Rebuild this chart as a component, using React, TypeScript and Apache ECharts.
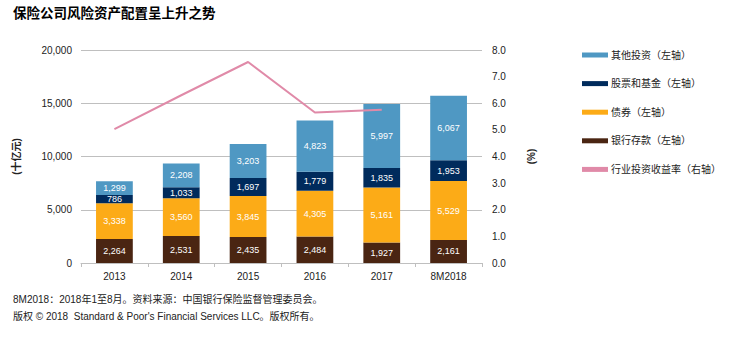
import React, { useEffect, useRef } from "react";
import * as echarts from "echarts";

const categories = ["2013", "2014", "2015", "2016", "2017", "8M2018"];
const bankDeposits = [2264, 2531, 2435, 2484, 1927, 2161];
const bonds = [3338, 3560, 3845, 4305, 5161, 5529];
const stocksFunds = [786, 1033, 1697, 1779, 1835, 1953];
const otherInvest = [1299, 2208, 3203, 4823, 5997, 6067];
const yieldRate: (number | string)[] = [5.03, 6.3, 7.55, 5.65, 5.76, "-"];

const FONT = "'Liberation Sans', 'Noto Sans CJK SC', sans-serif";

export default function App() {
  const ref = useRef<HTMLDivElement>(null);
  useEffect(() => {
    document.body.style.margin = "0";
    if (!ref.current) return;
    const chart = echarts.init(ref.current, undefined, { renderer: "svg" });
    const barLabel = {
      show: true,
      position: "inside",
      color: "#ffffff",
      fontSize: 9,
      fontFamily: FONT,
      formatter: (p: any) => Number(p.value).toLocaleString("en-US"),
    };
    const mkBar = (name: string, data: number[], color: string) => ({
      name,
      type: "bar",
      stack: "total",
      data,
      barWidth: "55%",
      itemStyle: { color },
      label: barLabel,
    });
    chart.setOption({
      animation: false,
      textStyle: { fontFamily: FONT },
      grid: { left: 81, right: 257, top: 50, bottom: 84 },
      legend: {
        orient: "vertical",
        left: 577,
        top: 45,
        itemWidth: 26,
        itemHeight: 5,
        itemGap: 18.6,
        icon: "rect",
        textStyle: { fontSize: 10, color: "#222", fontFamily: FONT, padding: [0, 0, 0, -2] },
        data: [
          "其他投资（左轴）",
          "股票和基金（左轴）",
          "债券（左轴）",
          "银行存款（左轴）",
          "行业投资收益率（右轴）",
        ],
      },
      xAxis: {
        type: "category",
        data: categories,
        axisLine: { lineStyle: { color: "#BFBFBF" } },
        axisTick: { show: true, length: 4, lineStyle: { color: "#BFBFBF" } },
        axisLabel: { color: "#222", fontSize: 10, margin: 8, fontFamily: FONT },
      },
      yAxis: [
        {
          type: "value",
          min: 0,
          max: 20000,
          interval: 5000,
          name: "(十亿元)",
          nameLocation: "middle",
          nameRotate: 90,
          nameGap: 60,
          nameTextStyle: { fontSize: 10, color: "#222", fontWeight: "bold", fontFamily: FONT },
          axisLine: { show: false },
          axisTick: { show: false },
          splitLine: { lineStyle: { color: "#BFBFBF" } },
          axisLabel: {
            color: "#222",
            fontSize: 10,
            margin: 9,
            fontFamily: FONT,
            formatter: (v: number) => v.toLocaleString("en-US"),
          },
        },
        {
          type: "value",
          min: 0,
          max: 8,
          interval: 1,
          name: "(%)",
          nameLocation: "middle",
          nameRotate: 90,
          nameGap: 44,
          nameTextStyle: { fontSize: 10, color: "#222", fontWeight: "bold", fontFamily: FONT },
          axisLine: { show: false },
          axisTick: { show: false },
          splitLine: { show: false },
          axisLabel: {
            color: "#222",
            fontSize: 10,
            margin: 10,
            fontFamily: FONT,
            formatter: (v: number) => v.toFixed(1),
          },
        },
      ],
      series: [
        mkBar("银行存款（左轴）", bankDeposits, "#4A2512"),
        mkBar("债券（左轴）", bonds, "#FCAB17"),
        mkBar("股票和基金（左轴）", stocksFunds, "#002B5C"),
        mkBar("其他投资（左轴）", otherInvest, "#4F98C3"),
        {
          name: "行业投资收益率（右轴）",
          type: "line",
          yAxisIndex: 1,
          data: yieldRate,
          symbol: "none",
          lineStyle: { color: "#E08AA8", width: 2 },
          itemStyle: { color: "#E08AA8" },
        },
      ],
      graphic: [
        {
          type: "text",
          left: 13,
          top: 7,
          style: {
            text: "保险公司风险资产配置呈上升之势",
            fontSize: 13.5,
            fontWeight: "bold",
            fill: "#000",
            fontFamily: FONT,
          },
        },
        {
          type: "text",
          left: 13,
          top: 294,
          style: {
            text: "8M2018：2018年1至8月。资料来源：中国银行保险监督管理委员会。",
            fontSize: 10,
            fill: "#222",
            fontFamily: FONT,
          },
        },
        {
          type: "text",
          left: 13,
          top: 311,
          style: {
            text: "版权 © 2018  Standard & Poor's Financial Services LLC。版权所有。",
            fontSize: 10,
            fill: "#222",
            fontFamily: FONT,
          },
        },
      ],
    });
    return () => chart.dispose();
  }, []);
  return <div ref={ref} style={{ width: 739, height: 347 }} />;
}
